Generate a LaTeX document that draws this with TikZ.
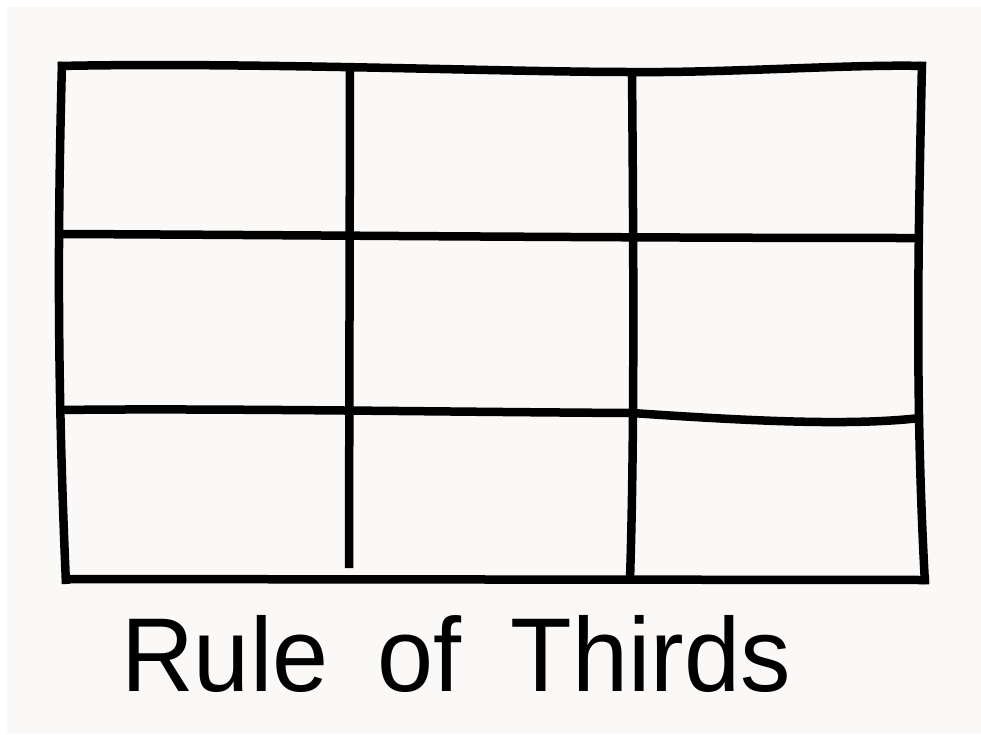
\documentclass[tikz,border=0pt]{standalone}
\usepackage{fontspec}
\newfontfamily\handfont[WordSpace=1.75]{Liberation Sans}
\definecolor{paper}{HTML}{FAF9F7}
\begin{document}
\begin{tikzpicture}[x=1pt,y=-1pt,
  gridline/.style={line width=8.5pt,black,line join=round,line cap=butt},
  caption/.style={font=\handfont\fontsize{105}{110}\selectfont,inner sep=0pt,anchor=base west}]
\useasboundingbox (0,0) rectangle (981,734);
\fill[white] (0,0) rectangle (981,734);
\fill[paper] (7,7) rectangle (981,734);
% outer frame
\draw[gridline] (58,66) .. controls (250,62) and (500,72) .. (630,72) .. controls (730,73) and (850,64) .. (926,66);
\draw[gridline] (62,62) .. controls (57,250) and (58,400) .. (66,584);
\draw[gridline] (62,579) -- (929,580);
\draw[gridline] (922,62) .. controls (918,250) and (915,400) .. (925,584);
% inner verticals
\draw[gridline] (350,68) -- (349,568);
\draw[gridline] (632,72) .. controls (634,300) and (634,450) .. (630,580);
% inner horizontals
\draw[gridline] (62,234) .. controls (300,235) and (600,238) .. (922,238);
\draw[gridline] (62,410) .. controls (200,408) and (450,412) .. (632,413) .. controls (750,421) and (850,426) .. (920,418);
\node[caption] (title) at (121,691) {\scalebox{0.96}[1]{Rule of Thirds}};
\end{tikzpicture}
\end{document}
